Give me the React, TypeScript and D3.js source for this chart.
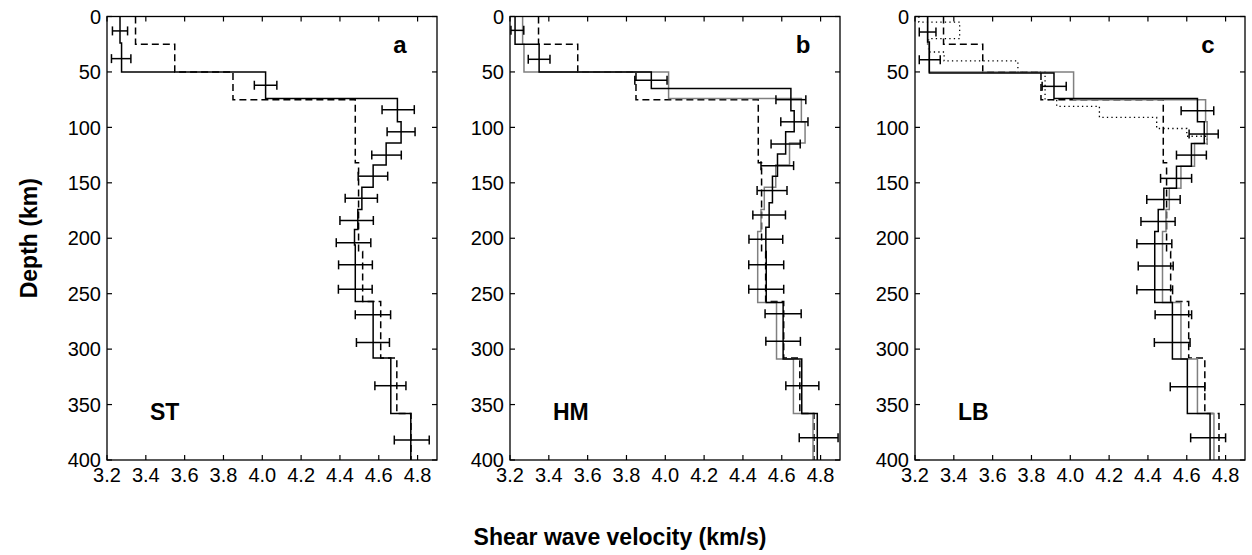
import React from "react";
import * as d3 from "d3";

// ---- data ----
const panelNames = ["a", "b", "c"];
const modelNames = ["ST", "HM", "LB"];
const depthTicks = [0, 50, 100, 150, 200, 250, 300, 350, 400];
const velTicks = [3.2, 3.4, 3.6, 3.8, 4.0, 4.2, 4.4, 4.6, 4.8];

// reference model (dashed), same in every panel
const refDepths = [0, 25, 50, 75, 132, 212, 257, 308, 358, 400];
const refV = [3.347, 3.549, 3.849, 4.479, 4.496, 4.517, 4.61, 4.693, 4.766];

// panel a
const aSolidDepths = [0, 24, 50, 74, 95, 114, 134, 154, 174, 192, 206, 257, 308, 358, 400];
const aSolidV = [3.267, 3.275, 4.017, 4.696, 4.715, 4.638, 4.571, 4.513, 4.492, 4.475, 4.479, 4.571, 4.662, 4.765];
const aErrDepth = [13, 38, 62, 84, 104, 125, 144, 164, 184, 204, 224, 246, 269, 294, 333, 382];
const aErrV = [3.267, 3.273, 4.017, 4.7, 4.715, 4.64, 4.57, 4.51, 4.486, 4.47, 4.48, 4.479, 4.57, 4.57, 4.66, 4.77];
const aErrHalf = [0.039, 0.05, 0.058, 0.083, 0.072, 0.076, 0.076, 0.083, 0.086, 0.089, 0.087, 0.087, 0.091, 0.085, 0.08, 0.09];

// panel b
const bSolidDepths = [0, 25, 50, 65, 85, 104, 124, 144, 168, 190, 212, 258, 309, 358, 400];
const bSolidV = [3.226, 3.35, 3.928, 4.647, 4.664, 4.62, 4.578, 4.552, 4.535, 4.518, 4.52, 4.607, 4.703, 4.783];
const bGrayDepths = [0, 25, 50, 74, 95, 114, 134, 154, 174, 194, 258, 309, 358, 400];
const bGrayV = [3.265, 3.272, 4.017, 4.701, 4.72, 4.64, 4.569, 4.51, 4.493, 4.476, 4.573, 4.66, 4.761];
const bErrDepth = [12.5, 38.6, 57.5, 75, 95, 115, 134.5, 157, 179, 201, 224, 246, 268, 293, 333, 380];
const bErrV = [3.238, 3.35, 3.926, 4.647, 4.665, 4.62, 4.577, 4.55, 4.535, 4.518, 4.52, 4.52, 4.607, 4.607, 4.706, 4.79];
const bErrHalf = [0.033, 0.056, 0.083, 0.077, 0.07, 0.075, 0.084, 0.077, 0.084, 0.087, 0.09, 0.09, 0.093, 0.089, 0.085, 0.1];

// panel c
const cSolidDepths = [0, 23, 51, 74, 95, 114.5, 135, 155, 174, 194, 258, 309, 358, 400];
const cSolidV = [3.265, 3.274, 3.916, 4.655, 4.69, 4.624, 4.547, 4.482, 4.453, 4.435, 4.526, 4.603, 4.72];
const cGrayDepths = [0, 25, 50, 75, 95, 114.5, 135, 155, 174, 194, 258, 309, 358, 400];
const cGrayV = [3.265, 3.272, 4.017, 4.697, 4.705, 4.64, 4.57, 4.51, 4.493, 4.475, 4.57, 4.655, 4.74];
const cDotDepths = [0, 5, 20, 32, 40, 50, 75, 81, 91, 101, 108, 116];
const cDotV = [3.22, 3.43, 3.27, 3.35, 3.73, 3.87, 3.93, 4.15, 4.445, 4.6, 4.705];
const cErrDepth = [14, 39, 63, 85, 106, 125, 146, 165, 185, 205, 225, 246.5, 269, 294, 334, 380];
const cErrV = [3.265, 3.276, 3.917, 4.655, 4.687, 4.624, 4.545, 4.48, 4.452, 4.433, 4.44, 4.435, 4.531, 4.525, 4.604, 4.71];
const cErrHalf = [0.043, 0.054, 0.062, 0.084, 0.075, 0.077, 0.08, 0.086, 0.088, 0.09, 0.09, 0.092, 0.094, 0.092, 0.089, 0.09];

type Profile = { depths: number[]; v: number[]; style: "solid" | "gray" | "dash" | "dot" };
type Err = { depth: number[]; v: number[]; half: number[] };

const panels: { profiles: Profile[]; err: Err }[] = [
  {
    profiles: [
      { depths: refDepths, v: refV, style: "dash" },
      { depths: aSolidDepths, v: aSolidV, style: "solid" },
    ],
    err: { depth: aErrDepth, v: aErrV, half: aErrHalf },
  },
  {
    profiles: [
      { depths: refDepths, v: refV, style: "dash" },
      { depths: bGrayDepths, v: bGrayV, style: "gray" },
      { depths: bSolidDepths, v: bSolidV, style: "solid" },
    ],
    err: { depth: bErrDepth, v: bErrV, half: bErrHalf },
  },
  {
    profiles: [
      { depths: cDotDepths, v: cDotV, style: "dot" },
      { depths: refDepths, v: refV, style: "dash" },
      { depths: cGrayDepths, v: cGrayV, style: "gray" },
      { depths: cSolidDepths, v: cSolidV, style: "solid" },
    ],
    err: { depth: cErrDepth, v: cErrV, half: cErrHalf },
  },
];

// ---- layout ----
const W = 1252;
const H = 555;
const panelLeft = [107, 510, 915];
const panelW = 330;
const top = 16.5;
const bottom = 460;
const FONT = "'Liberation Sans', Arial, Helvetica, sans-serif";

const styleMap: Record<string, { stroke: string; dash?: string; width: number }> = {
  solid: { stroke: "#000", width: 1.5 },
  gray: { stroke: "#808080", width: 1.5 },
  dash: { stroke: "#000", dash: "7,4", width: 1.5 },
  dot: { stroke: "#000", dash: "1.3,3.2", width: 1.3 },
};

function Panel({ idx }: { idx: number }) {
  const x = d3.scaleLinear().domain([3.2, 4.9]).range([panelLeft[idx], panelLeft[idx] + panelW]);
  const y = d3.scaleLinear().domain([0, 400]).range([top, bottom]);
  const line = d3
    .line<[number, number]>()
    .x((d) => x(d[0]))
    .y((d) => y(d[1]));
  const p = panels[idx];
  const x0 = x.range()[0];
  const x1 = x.range()[1];
  const tk = 5;
  return (
    <g>
      {p.profiles.map((pr, i) => {
        const pts: [number, number][] = [];
        pr.v.forEach((v, j) => {
          pts.push([v, pr.depths[j]]);
          pts.push([v, pr.depths[j + 1]]);
        });
        const s = styleMap[pr.style];
        return (
          <path
            key={i}
            d={line(pts) || ""}
            fill="none"
            stroke={s.stroke}
            strokeWidth={s.width}
            strokeDasharray={s.dash}
          />
        );
      })}
      {p.err.depth.map((d, j) => {
        const cy = y(d);
        const xl = x(p.err.v[j] - p.err.half[j]);
        const xr = x(p.err.v[j] + p.err.half[j]);
        return (
          <g key={j} stroke="#000" strokeWidth={1.5}>
            <line x1={xl} x2={xr} y1={cy} y2={cy} />
            <line x1={xl} x2={xl} y1={cy - 4.5} y2={cy + 4.5} />
            <line x1={xr} x2={xr} y1={cy - 4.5} y2={cy + 4.5} />
          </g>
        );
      })}
      {/* frame */}
      <rect x={x0} y={top} width={panelW} height={bottom - top} fill="none" stroke="#000" strokeWidth={1.3} />
      {depthTicks.map((t) => (
        <g key={"yt" + t} stroke="#000" strokeWidth={1.2}>
          <line x1={x0} x2={x0 + tk} y1={y(t)} y2={y(t)} />
          <line x1={x1} x2={x1 - tk} y1={y(t)} y2={y(t)} />
        </g>
      ))}
      {velTicks.map((t) => (
        <g key={"xt" + t} stroke="#000" strokeWidth={1.2}>
          <line x1={x(t)} x2={x(t)} y1={top} y2={top + tk} />
          <line x1={x(t)} x2={x(t)} y1={bottom} y2={bottom - tk} />
        </g>
      ))}
      {depthTicks.map((t) => (
        <text
          key={"yl" + t}
          x={x0 - 6}
          y={y(t)}
          dy="0.36em"
          textAnchor="end"
          fontSize={20}
          fontFamily={FONT}
        >
          {t}
        </text>
      ))}
      {velTicks.map((t) => (
        <text
          key={"xl" + t}
          x={x(t)}
          y={bottom + 22}
          textAnchor="middle"
          fontSize={20}
          fontFamily={FONT}
        >
          {d3.format(".1f")(t)}
        </text>
      ))}
      <text x={x1 - 37} y={53} textAnchor="middle" fontSize={24} fontWeight="bold" fontFamily={FONT}>
        {panelNames[idx]}
      </text>
      <text x={x0 + 43} y={420} fontSize={23} fontWeight="bold" fontFamily={FONT}>
        {modelNames[idx]}
      </text>
    </g>
  );
}

export default function App() {
  return (
    <svg width={W} height={H} style={{ display: "block", position: "absolute", left: 0, top: 0 }}>
      <rect width={W} height={H} fill="#fff" />
      {[0, 1, 2].map((i) => (
        <Panel key={i} idx={i} />
      ))}
      <text
        transform={`translate(37,${(top + bottom) / 2}) rotate(-90)`}
        textAnchor="middle"
        fontSize={23}
        fontWeight="bold"
        fontFamily={FONT}
      >
        Depth (km)
      </text>
      <text x={620} y={545} textAnchor="middle" fontSize={23} fontWeight="bold" fontFamily={FONT}>
        Shear wave velocity (km/s)
      </text>
    </svg>
  );
}
